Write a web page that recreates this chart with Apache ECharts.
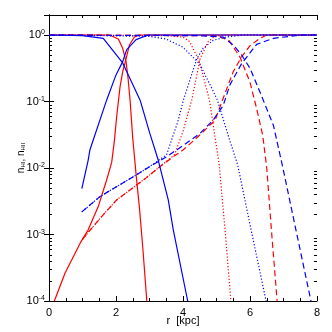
<!DOCTYPE html>
<html>
<head>
<meta charset="utf-8">
<script src="https://cdn.jsdelivr.net/npm/echarts@6/dist/echarts.min.js"></script>
<style>
  html, body { margin: 0; padding: 0; background: #fff; }
  #chart { width: 332px; height: 332px; }
</style>
</head>
<body>
<div id="chart"></div>
<script>
// points are [r in kpc, log10 of fraction]
const redSolidHI = [[0, 0], [1.8, 0], [2.07, -0.06], [2.2, -0.2], [2.3, -0.4], [2.36, -0.65], [2.42, -0.98], [2.5, -1.55], [2.6, -2.1], [2.7, -2.6], [2.8, -3.2], [2.92, -4.0]]
const redSolidHII = [[0.16, -4.0], [0.48, -3.58], [0.93, -3.13], [1.17, -2.93], [1.47, -2.58], [1.72, -2.18], [1.87, -1.92], [1.95, -1.6], [2.02, -1.23], [2.12, -0.78], [2.2, -0.55], [2.3, -0.36], [2.4, -0.15], [2.55, -0.03], [2.7, 0], [8, 0]]
const blueSolidHI = [[0, 0], [1.0, -0.01], [1.62, -0.05], [2.2, -0.42], [2.72, -0.98], [3.01, -1.48], [3.26, -1.88], [3.56, -2.48], [3.71, -2.93], [4.14, -4.0]]
const blueSolidHII = [[0.98, -2.31], [1.17, -1.88], [1.22, -1.73], [1.62, -1.13], [1.72, -0.98], [2.0, -0.6], [2.2, -0.4], [2.32, -0.22], [2.6, -0.07], [2.96, 0], [8, 0]]

const redDotHI = [[0, 0], [3.5, -0.01], [4.0, -0.03], [4.2, -0.1], [4.49, -0.4], [4.79, -0.98], [5.08, -1.95], [5.25, -2.9], [5.43, -4.0]]
const redDotHII = [[1.0, -3.07], [1.57, -2.73], [2.02, -2.48], [2.87, -2.16], [3.31, -1.98], [3.75, -1.8], [4.0, -1.45], [4.26, -0.98], [4.51, -0.36], [4.75, -0.1], [4.95, -0.02], [5.3, 0], [8, 0]]
const blueDotHI = [[0, 0], [3.0, -0.02], [3.49, -0.06], [3.99, -0.18], [4.49, -0.43], [4.79, -0.73], [5.03, -0.98], [5.33, -1.48], [5.63, -1.95], [6.05, -2.97], [6.48, -4.0]]
const blueDotHII = [[0.98, -2.66], [1.52, -2.43], [2.52, -2.13], [3.0, -1.98], [3.51, -1.8], [3.86, -1.28], [4.01, -0.98], [4.41, -0.36], [4.6, -0.2], [4.9, -0.08], [5.3, -0.03], [5.8, 0], [8, 0]]

const redDashHI = [[0, 0], [5.0, -0.01], [5.37, -0.08], [5.7, -0.33], [6.0, -0.71], [6.2, -1.11], [6.38, -1.51], [6.5, -2.0], [6.65, -3.0], [6.81, -4.0]]
const redDashHII = [[1.0, -3.07], [1.57, -2.73], [2.02, -2.48], [2.87, -2.16], [3.31, -1.98], [3.71, -1.83], [4.0, -1.73], [4.51, -1.5], [4.96, -1.28], [5.2, -0.95], [5.5, -0.55], [5.75, -0.33], [6.0, -0.16], [6.3, -0.05], [6.5, 0], [8, 0]]
const blueDashHI = [[0, 0], [4.5, -0.01], [5.2, -0.03], [5.5, -0.15], [5.75, -0.3], [6.0, -0.5], [6.3, -0.86], [6.7, -1.36], [6.97, -1.97], [7.4, -3.0], [7.82, -4.0]]
const blueDashHII = [[0.98, -2.66], [1.52, -2.43], [2.52, -2.13], [3.0, -1.98], [3.51, -1.83], [4.01, -1.66], [4.51, -1.48], [4.9, -1.28], [5.2, -1.06], [5.4, -0.75], [5.75, -0.43], [6.2, -0.14], [6.7, -0.05], [7.5, 0], [8, 0]]

const xTicks = [0, 2, 4, 6, 8]
const yMinorTicks = [
  2e-4, 3e-4, 4e-4, 5e-4, 6e-4, 7e-4, 8e-4, 9e-4,
  2e-3, 3e-3, 4e-3, 5e-3, 6e-3, 7e-3, 8e-3, 9e-3,
  2e-2, 3e-2, 4e-2, 5e-2, 6e-2, 7e-2, 8e-2, 9e-2,
  2e-1, 3e-1, 4e-1, 5e-1, 6e-1, 7e-1, 8e-1, 9e-1
]

const RED = '#ff0000'
const BLUE = '#0000ff'
const FONT = '"Liberation Sans", Arial, sans-serif'

const toSeries = (pts) => pts.map(p => [p[0], Math.pow(10, p[1])])

const line = (name, pts, color, dash) => ({
  name,
  type: 'line',
  data: toSeries(pts),
  showSymbol: false,
  symbol: 'none',
  clip: true,
  lineStyle: { color, width: 1.2, type: dash },
  z: color === BLUE ? 3 : 2
})

const yLabel = (v) => {
  const e = Math.log10(v)
  if (Math.abs(e - Math.round(e)) > 1e-6) return ''
  const n = Math.round(e)
  return '{b|10}{e|' + (n < 0 ? '-' + (-n) : n) + '}'
}

const chart = echarts.init(document.getElementById('chart'))

const commonX = {
  type: 'value',
  min: 0,
  max: 8,
  interval: 2,
  axisLine: { show: true, lineStyle: { color: '#000', width: 1 } },
  axisTick: { show: true, inside: true, length: 5, lineStyle: { color: '#000' } },
  minorTick: { show: true, splitNumber: 4, length: 3, lineStyle: { color: '#000' } },
  splitLine: { show: false }
}

const commonY = {
  type: 'log',
  logBase: 10,
  min: 1e-4,
  max: 2,
  axisLine: { show: true, lineStyle: { color: '#000', width: 1 } },
  axisTick: { show: true, inside: true, length: 5, lineStyle: { color: '#000' } },
  splitLine: { show: false }
}

const option = {
  animation: false,
  backgroundColor: '#fff',
  grid: { left: 49, right: 15, top: 15, bottom: 31, containLabel: false, outerBoundsMode: 'none' },
  xAxis: [
    {
      ...commonX,
      position: 'bottom',
      name: 'r  [kpc]',
      nameLocation: 'middle',
      nameGap: 14,
      nameMoveOverlap: false,
      nameTextStyle: { fontFamily: FONT, fontSize: 11, color: '#000', verticalAlign: 'top' },
      axisLabel: {
        fontFamily: FONT, fontSize: 11, color: '#000', margin: 6,
        formatter: (v) => xTicks.includes(v) ? String(v) : ''
      }
    },
    { ...commonX, position: 'top', axisLabel: { show: false } }
  ],
  yAxis: [
    {
      ...commonY,
      position: 'left',
      name: '{n|n}{s|HI}{n|, n}{s|HII}',
      nameLocation: 'middle',
      nameGap: 23,
      nameRotate: 90,
      nameMoveOverlap: false,
      nameTextStyle: {
        rich: {
          n: { fontFamily: FONT, fontSize: 10, color: '#000' },
          s: { fontFamily: FONT, fontSize: 6, color: '#000', verticalAlign: 'bottom', padding: [4, 0, 0, 0] }
        }
      },
      axisLabel: {
        margin: 4,
        formatter: yLabel,
        rich: {
          b: { fontFamily: FONT, fontSize: 11, color: '#000' },
          e: { fontFamily: FONT, fontSize: 7, color: '#000', verticalAlign: 'top', padding: [0, 0, 5, 0] }
        }
      }
    },
    { ...commonY, position: 'right', axisLabel: { show: false } }
  ],
  series: [
    line('red solid HI', redSolidHI, RED, 'solid'),
    line('red solid HII', redSolidHII, RED, 'solid'),
    line('red dotted HI', redDotHI, RED, [1.2, 2]),
    line('red dotted HII', redDotHII, RED, [1.2, 2]),
    line('red dashed HI', redDashHI, RED, [6, 3.5]),
    line('red dashed HII', redDashHII, RED, [6, 3.5]),
    line('blue solid HI', blueSolidHI, BLUE, 'solid'),
    line('blue solid HII', blueSolidHII, BLUE, 'solid'),
    line('blue dotted HI', blueDotHI, BLUE, [1.2, 2]),
    line('blue dotted HII', blueDotHII, BLUE, [1.2, 2]),
    line('blue dashed HI', blueDashHI, BLUE, [6, 3.5]),
    line('blue dashed HII', blueDashHII, BLUE, [6, 3.5]),
    {
      // minor log ticks on left and right frame
      name: 'y minor ticks',
      type: 'custom',
      data: yMinorTicks.map(v => [0, v]),
      encode: { x: 0, y: 1 },
      silent: true,
      z: 5,
      renderItem: (params, api) => {
        const v = api.value(1)
        const l = api.coord([0, v])
        const r = api.coord([8, v])
        const y = Math.round(l[1]) + 0.5
        return {
          type: 'group',
          children: [
            { type: 'line', shape: { x1: l[0], y1: y, x2: l[0] + 3, y2: y }, style: { stroke: '#000', lineWidth: 1 } },
            { type: 'line', shape: { x1: r[0] - 3, y1: y, x2: r[0], y2: y }, style: { stroke: '#000', lineWidth: 1 } }
          ]
        }
      }
    }
  ]
}

chart.setOption(option)
</script>
</body>
</html>
